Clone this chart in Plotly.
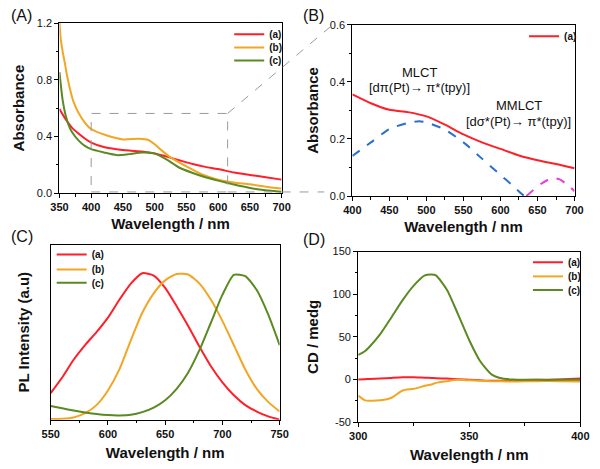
import plotly.graph_objects as go

W, H = 600, 469
FONT = "Arial, 'Liberation Sans', sans-serif"

# ---------------- Data ----------------
# Panel A: UV-vis absorbance
a_wl_a = [350, 360, 370, 380, 390, 400, 420, 440, 460, 480, 500, 520, 540, 560, 580, 600, 625, 650, 675, 700]
a_abs_a = [0.594, 0.52, 0.46, 0.42, 0.385, 0.356, 0.325, 0.31, 0.30, 0.293, 0.279, 0.256, 0.23, 0.205, 0.185, 0.17, 0.145, 0.128, 0.112, 0.095]
a_wl_b = [350, 352, 355, 358, 362, 367, 372, 380, 390, 400, 425, 450, 475, 490, 500, 510, 525, 550, 575, 600, 625, 650, 675, 700]
a_abs_b = [1.2, 1.09, 1.0, 0.93, 0.83, 0.727, 0.647, 0.567, 0.498, 0.452, 0.406, 0.379, 0.383, 0.375, 0.345, 0.305, 0.252, 0.188, 0.131, 0.094, 0.075, 0.062, 0.045, 0.032]
a_wl_c = [350, 355, 360, 365, 370, 380, 390, 400, 420, 440, 460, 480, 500, 520, 540, 560, 580, 600, 625, 650, 675, 700]
a_abs_c = [0.853, 0.658, 0.544, 0.475, 0.429, 0.372, 0.333, 0.31, 0.287, 0.268, 0.275, 0.287, 0.28, 0.234, 0.177, 0.142, 0.112, 0.088, 0.06, 0.036, 0.02, 0.009]

# Panel B: absorbance of (a) with MLCT / MMLCT components
b_wl = [400, 425, 450, 475, 500, 525, 550, 575, 600, 625, 650, 675, 700]
b_abs = [0.356, 0.325, 0.302, 0.294, 0.279, 0.25, 0.216, 0.188, 0.165, 0.142, 0.125, 0.112, 0.097]
mlct_wl = [400, 425, 450, 475, 490, 500, 525, 550, 575, 600, 615, 625, 632]
mlct_abs = [0.14, 0.188, 0.235, 0.256, 0.262, 0.258, 0.233, 0.188, 0.131, 0.074, 0.04, 0.016, 0.0]
mmlct_wl = [635, 645, 655, 665, 672, 680, 690, 700]
mmlct_abs = [0.0, 0.022, 0.043, 0.058, 0.063, 0.058, 0.04, 0.017]

# Panel C: PL intensity (normalised)
pl_wl = [550, 560, 570, 580, 590, 600, 610, 620, 630, 640, 650, 660, 670, 680, 690, 700, 710, 720, 730, 740, 750]
pl_a = [0.181, 0.287, 0.408, 0.508, 0.596, 0.695, 0.817, 0.927, 0.998, 0.982, 0.898, 0.773, 0.64, 0.497, 0.364, 0.254, 0.166, 0.099, 0.055, 0.022, 0.0]
pl_b = [0.004, 0.006, 0.015, 0.044, 0.099, 0.199, 0.342, 0.541, 0.728, 0.861, 0.949, 0.993, 0.989, 0.927, 0.817, 0.673, 0.508, 0.342, 0.21, 0.121, 0.055]
pl_c = [0.093, 0.077, 0.062, 0.049, 0.038, 0.031, 0.029, 0.033, 0.051, 0.082, 0.132, 0.21, 0.32, 0.475, 0.662, 0.85, 0.987, 0.978, 0.883, 0.717, 0.508]

# Panel D: CD spectra
cd_wl = [300, 303, 305, 310, 315, 320, 325, 330, 333, 335, 340, 345, 350, 355, 360, 365, 370, 380, 390, 400]
cd_a = [0.0, 0.3, 0.5, 1.0, 1.8, 2.5, 2.5, 2.0, 1.8, 1.5, 1.0, 0.3, -0.5, -1.0, -1.5, -1.5, -1.0, -0.5, 0.0, 1.0]
cd_b = [-19, -24.5, -25, -24.5, -21.5, -13, -11, -7.5, -6, -4, -2, -0.5, -1, -1.5, -2, -2.2, -2.5, -2, -2, -2.5]
cd_c = [28.7, 33, 38, 53.4, 73, 93, 110, 122, 123, 122, 105, 76, 46, 21, 6, 1, 0, -0.5, -0.5, -0.5]

# tick values
a_yticks = [0.0, 0.4, 0.8, 1.2]
b_yticks = [0.0, 0.2, 0.4, 0.6]
d_yticks = [-50, 0, 50, 100, 150]

RED, ORANGE, GREEN = "#ff1f2a", "#f2a623", "#5a8a22"
BLUE, MAGENTA = "#2a6fcf", "#e044d6"
INK = "#000000"

# ---------------- Layout geometry (px) ----------------
PX = {
    "A": (52, 281, 17.5, 192),
    "B": (354, 583, 19.3, 195),
    "C": (43, 279, 245, 424.5),
    "D": (360, 589, 252, 427),
}
DOM = {k: ([l / W, r / W], [1 - b / H, 1 - t / H]) for k, (l, r, t, b) in PX.items()}

fig = go.Figure()

def add(x, y, name, color, xa, ya, legend=None, dash=None, show=True):
    fig.add_trace(go.Scatter(
        x=x, y=y, name=name, mode="lines",
        line=dict(color=color, width=2, dash=dash, shape="spline", smoothing=0.6),
        xaxis=xa, yaxis=ya, legend=legend, showlegend=show and legend is not None))

add(a_wl_a, a_abs_a, "(a)", RED, "x", "y", "legend")
add(a_wl_b, a_abs_b, "(b)", ORANGE, "x", "y", "legend2")
add(a_wl_c, a_abs_c, "(c)", GREEN, "x", "y", "legend3")

add(mlct_wl, mlct_abs, "MLCT", BLUE, "x2", "y2", None, dash="dash", show=False)
add(mmlct_wl, mmlct_abs, "MMLCT", MAGENTA, "x2", "y2", None, dash="dash", show=False)
add(b_wl, b_abs, "(a)", RED, "x2", "y2", "legend4")

add(pl_wl, pl_a, "(a)", RED, "x3", "y3", "legend5")
add(pl_wl, pl_b, "(b)", ORANGE, "x3", "y3", "legend6")
add(pl_wl, pl_c, "(c)", GREEN, "x3", "y3", "legend7")

add(cd_wl, cd_a, "(a)", RED, "x4", "y4", "legend8")
add(cd_wl, cd_b, "(b)", ORANGE, "x4", "y4", "legend9")
add(cd_wl, cd_c, "(c)", GREEN, "x4", "y4", "legend10")

tickfont = dict(family=FONT, size=11, color="#111")
titlefont = dict(family=FONT, size=15, color="#111")

def axis(domain, rng, dtick, minor, title, standoff, anchor, showlabels=True, ticks="outside",
         tickvals=None, fmt=None):
    d = dict(domain=domain, range=rng,
             showline=True, linecolor=INK, linewidth=1.2, mirror=True,
             ticks=ticks, ticklen=4, tickwidth=1.2, tickcolor=INK,
             showgrid=False, zeroline=False, showticklabels=showlabels,
             tickfont=tickfont, anchor=anchor, tickprefix="<b>", ticksuffix="</b>",
             title=dict(text="<b>" + title + "</b>", font=titlefont, standoff=standoff))
    if tickvals is not None:
        d["tickmode"] = "array"
        d["tickvals"] = tickvals
        d["ticktext"] = [("{:" + fmt + "}").format(v) if fmt else str(v) for v in tickvals]
    elif dtick:
        d["dtick"] = dtick
        d["tick0"] = rng[0]
    if minor:
        d["minor"] = dict(dtick=minor, tick0=rng[0], ticks="outside", ticklen=2.5, tickwidth=1,
                          tickcolor=INK, showgrid=False)
    return d

lay = dict(
    width=W, height=H, margin=dict(l=0, r=0, t=0, b=0),
    paper_bgcolor="white", plot_bgcolor="white",
    font=dict(family=FONT, color="#111"),
    xaxis=axis(DOM["A"][0], [350, 700], 50, 25, "Wavelength / nm", 6, "y"),
    yaxis=axis(DOM["A"][1], [0, 1.2], 0.4, 0.2, "Absorbance", 8, "x", tickvals=a_yticks, fmt=".1f"),
    xaxis2=axis(DOM["B"][0], [400, 700], 50, 25, "Wavelength / nm", 6, "y2"),
    yaxis2=axis(DOM["B"][1], [0, 0.6], 0.2, 0.1, "Absorbance", 7, "x2", tickvals=b_yticks, fmt=".1f"),
    xaxis3=axis(DOM["C"][0], [550, 750], 50, 25, "Wavelength / nm", 8, "y3"),
    yaxis3=axis(DOM["C"][1], [0, 1.192], None, None, "PL Intensity (a.u)", 16, "x3", showlabels=False, ticks=""),
    xaxis4=axis(DOM["D"][0], [300, 400], 50, 25, "Wavelength / nm", 8, "y4"),
    yaxis4=axis(DOM["D"][1], [-50, 150], 50, 25, "CD / medg", 10, "x4", tickvals=d_yticks),
)

legfont = dict(family=FONT, size=10, color="#111", weight="bold")

def leg(xpx, ypx):
    return dict(x=(xpx - 5) / W, y=1 - ypx / H, xanchor="left", yanchor="middle",
                bgcolor="rgba(0,0,0,0)", borderwidth=0, font=legfont, itemwidth=30,
                entrywidth=60)

leg_pos = {
    "legend": (232, 29), "legend2": (232, 42.5), "legend3": (232, 56),
    "legend4": (536, 31),
    "legend5": (49, 255), "legend6": (49, 270.5), "legend7": (49, 284),
    "legend8": (540, 263), "legend9": (540, 277.5), "legend10": (540, 291.5),
}
for k, (xp, yp) in leg_pos.items():
    lay[k] = leg(xp, yp)

fig.update_layout(**lay)

# Panel labels
for txt, xp, yp in [("(A)", 0, 10), ("(B)", 301, 10), ("(C)", 0, 237), ("(D)", 301, 240)]:
    fig.add_annotation(text=txt, x=xp / W, y=1 - yp / H, xref="paper", yref="paper",
                       xanchor="left", yanchor="middle", showarrow=False,
                       font=dict(family=FONT, size=16, color="#111"))

# Panel B annotations
annfont = dict(family=FONT, size=13, color="#111")
for txt, xv, yv in [("MLCT", 490, 0.433), ("[dπ(Pt)→ π*(tpy)]", 490, 0.382),
                    ("MMLCT", 625, 0.317), ("[dσ*(Pt)→ π*(tpy)]", 625, 0.262)]:
    fig.add_annotation(text=txt, x=xv, y=yv, xref="x2", yref="y2", showarrow=False,
                       xanchor="center", yanchor="middle", font=annfont)

# Zoom indicator (dashed gray) from panel A to panel B
def paper_x(panel, rng, v):
    d = DOM[panel][0]
    return d[0] + (v - rng[0]) / (rng[1] - rng[0]) * (d[1] - d[0])

def paper_y(panel, rng, v):
    d = DOM[panel][1]
    return d[0] + (v - rng[0]) / (rng[1] - rng[0]) * (d[1] - d[0])

zx0, zx1, zy0, zy1 = 400, 615, 0.008, 0.562
gray = dict(color="#9a9a9a", width=1, dash="dash")
fig.add_shape(type="rect", xref="x", yref="y", x0=zx0, x1=zx1, y0=zy0, y1=zy1, line=gray)
px1 = paper_x("A", [350, 700], zx1)
fig.add_shape(type="line", xref="paper", yref="paper",
              x0=px1, y0=paper_y("A", [0, 1.2], zy1), x1=334 / W, y1=1 - 19 / H, line=gray)
fig.add_shape(type="line", xref="paper", yref="paper",
              x0=px1, y0=paper_y("A", [0, 1.2], zy0), x1=325 / W, y1=paper_y("A", [0, 1.2], zy0), line=gray)

fig.write_html("out.html")
